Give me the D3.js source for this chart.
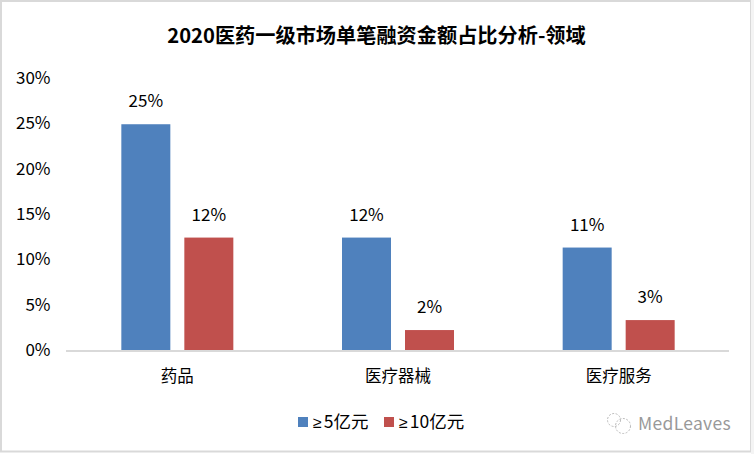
<!DOCTYPE html>
<html><head><meta charset="utf-8"><script src="https://cdn.jsdelivr.net/npm/d3@7"></script>
<style>html,body{margin:0;background:#fff}svg{display:block}text{font-family:"Noto Sans CJK SC","Open Sans",sans-serif;fill:#000}</style></head><body><svg id="c" width="754" height="454"></svg>
<script>
const categories=["药品","医疗器械","医疗服务"];
const seriesNames=["5亿元","10亿元"];
const seriesA=[24.9,12.4,11.3];
const seriesB=[12.4,2.2,3.3];
const labelsA=["25%","12%","11%"];
const labelsB=["12%","2%","3%"];
const colors=["#4f81bd","#c0504d"];
const ticks=[0,5,10,15,20,25,30];
const svg=d3.select("#c");
svg.append("rect").attr("x",1).attr("y",1).attr("width",750).attr("height",450.5).attr("fill","#fff").attr("stroke","#d9d9d9").attr("stroke-width",2);
svg.append("rect").attr("x",751).attr("y",0).attr("width",3).attr("height",454).attr("fill","#f4f4f4");
const x=d3.scaleBand().domain(categories).range([67,729]);
const y=d3.scaleLinear().domain([0,30]).range([350,78]);
svg.append("text").attr("x",376.5).attr("y",43).attr("text-anchor","middle").attr("font-size",20.2).attr("font-weight",700).text("2020医药一级市场单笔融资金额占比分析-领域");
ticks.forEach(t=>svg.append("text").attr("x",50.5).attr("y",y(t)+6).attr("text-anchor","end").attr("font-size",17).text(t+"%"));
svg.append("line").attr("x1",66).attr("x2",729).attr("y1",351).attr("y2",351).attr("stroke","#d9d9d9").attr("stroke-width",2);
const bw=49,off=[-56,7];
[seriesA,seriesB].forEach((s,i)=>{const lab=i?labelsB:labelsA;
 categories.forEach((c,j)=>{const cx=x(c)+x.bandwidth()/2,bx=cx+off[i];
  svg.append("rect").attr("x",bx).attr("y",y(s[j])).attr("width",bw).attr("height",350-y(s[j])).attr("fill",colors[i]);
  svg.append("text").attr("x",bx+bw/2).attr("y",y(s[j])-17).attr("text-anchor","middle").attr("font-size",17).text(lab[j]);
 });});
categories.forEach(c=>svg.append("text").attr("x",x(c)+x.bandwidth()/2).attr("y",382).attr("text-anchor","middle").attr("font-size",16.5).text(c));
[[298,seriesNames[0]],[384,seriesNames[1]]].forEach(([lx,n],i)=>{
 svg.append("rect").attr("x",lx).attr("y",417).attr("width",10).attr("height",10).attr("fill",colors[i]);
 const t=svg.append("text").attr("x",lx+15).attr("y",428).attr("font-size",17.5);
 t.append("tspan").style("font-family","'Liberation Sans'").attr("font-size",16).text("≥");
 t.append("tspan").attr("dx",2).text(n);});
const ic=svg.append("g").attr("fill","none").attr("stroke","#bbb").attr("stroke-width",1).attr("stroke-dasharray","2 1.5");
ic.append("circle").attr("cx",614).attr("cy",420).attr("r",6.5);
ic.append("circle").attr("cx",623).attr("cy",426).attr("r",7.5);
svg.append("text").attr("x",638).attr("y",430).attr("font-size",17.5).attr("letter-spacing",0.3).style("fill","#999").text("MedLeaves");
</script></body></html>
